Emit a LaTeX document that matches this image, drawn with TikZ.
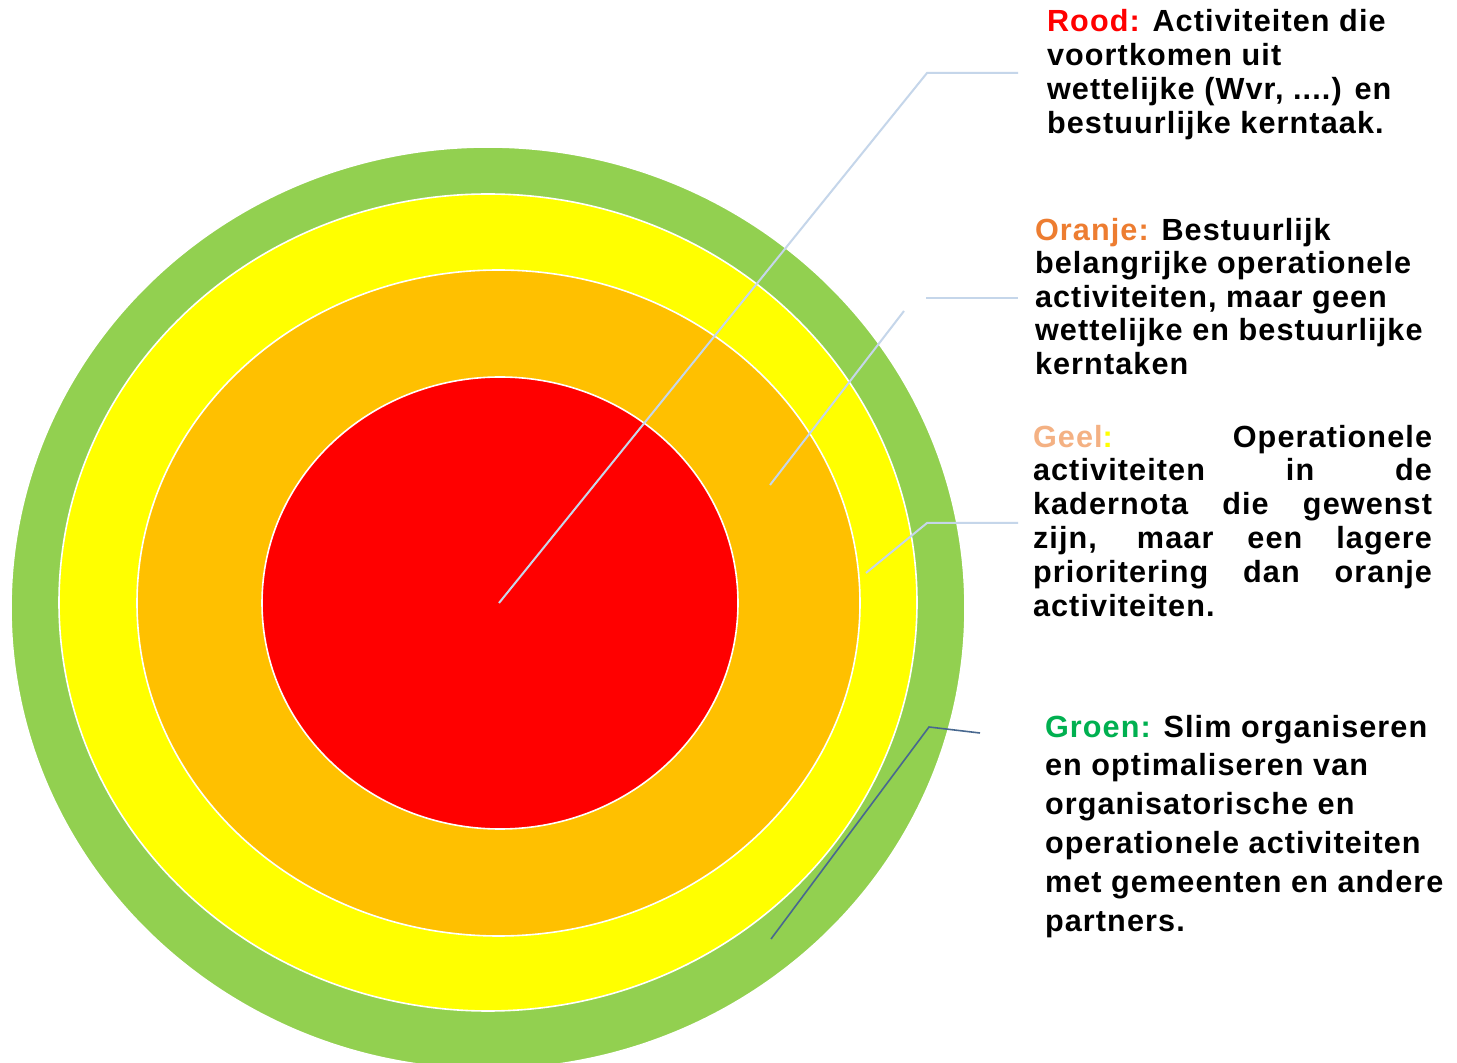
\documentclass[tikz,border=0pt]{standalone}
\usepackage{fontspec}
\setmainfont{Liberation Sans}[LetterSpace=3.6]
\definecolor{ringgreen}{HTML}{92D050}
\definecolor{ringyellow}{HTML}{FFFF00}
\definecolor{ringorange}{HTML}{FFC000}
\definecolor{ringred}{HTML}{FF0000}
\definecolor{txtred}{HTML}{FF0000}
\definecolor{txtorange}{HTML}{ED7D31}
\definecolor{txtpeach}{HTML}{F4B183}
\definecolor{txtyellow}{HTML}{FFFF00}
\definecolor{txtgreen}{HTML}{00B050}
\definecolor{connlight}{RGB}{197,214,234}
\definecolor{conndark}{RGB}{72,104,143}
\begin{document}
\begin{tikzpicture}[x=0.5pt,y=-0.5pt,
  ring/.style={draw=white,line width=0.8pt},
  lbl/.style={inner sep=0pt,outer sep=0pt,anchor=north west,align=left,
    font=\bfseries\fontsize{15.3pt}{17pt}\selectfont},
  conn/.style={draw=connlight,line width=1pt},
  conndk/.style={draw=conndark,line width=0.8pt}]
\fill[white] (0,0) rectangle (1457,1063);
\useasboundingbox (0,0) rectangle (1457,1063);
% rings
\begin{scope}
\clip (0,0) rectangle (1457,1063);
\fill[ringgreen,ring]  (488,608)   ellipse [x radius=238.5pt, y radius=230.5pt];
\end{scope}
\fill[ringyellow,ring] (488,602.5) ellipse [x radius=214.5pt, y radius=204.25pt];
\fill[ringorange,ring] (498.5,603) ellipse [x radius=180.75pt, y radius=166.5pt];
\fill[ringred,ring]    (500,603)   ellipse [x radius=119pt, y radius=113pt];
% labels
\node[lbl] (rood) at (1047,9)
  {{\color{txtred}Rood:} Activiteiten die\\voortkomen uit\\wettelijke (Wvr, ....) en\\bestuurlijke kerntaak.};
\node[lbl,font=\bfseries\fontsize{15.3pt}{16.75pt}\selectfont] (oranje) at (1035,218)
  {{\color{txtorange}Oranje:} Bestuurlijk\\belangrijke operationele\\activiteiten, maar geen\\wettelijke en bestuurlijke\\kerntaken};
\node[lbl,align=justify,text width=199.5pt,font=\bfseries\fontsize{15.3pt}{16.9pt}\selectfont] (geel) at (1033,425)
  {\hyphenpenalty=10000\tolerance=10000{\color{txtpeach}Geel}{\color{txtyellow}:} Operationele\linebreak activiteiten in de\linebreak kadernota die gewenst\linebreak zijn, maar een lagere\linebreak prioritering dan oranje\linebreak activiteiten.};
\node[lbl,font=\bfseries\fontsize{15.3pt}{19.4pt}\selectfont] (groen) at (1045,715)
  {{\color{txtgreen}Groen:} Slim organiseren\\en optimaliseren van\\organisatorische en\\operationele activiteiten\\met gemeenten en andere\\partners.};
% connector points
\coordinate (redc) at (499,603);
\coordinate (k1) at (927,73);
\coordinate (e1) at (1018,73);
\coordinate (os) at (770,485);
\coordinate (oe) at (904,311);
\coordinate (hs) at (926,298);
\coordinate (he) at (1018,298);
\coordinate (gs) at (866,573);
\coordinate (gk) at (927,523);
\coordinate (ge) at (1018,523);
\coordinate (ns) at (771,939);
\coordinate (nk) at (929,727);
\coordinate (ne) at (980,733);
% connectors
\draw[conn] (redc) -- (k1) -- (e1);
\draw[conn] (os) -- (oe);
\draw[conn] (hs) -- (he);
\draw[conn] (gs) -- (gk) -- (ge);
\draw[conndk] (ns) -- (nk) -- (ne);
\end{tikzpicture}
\end{document}
